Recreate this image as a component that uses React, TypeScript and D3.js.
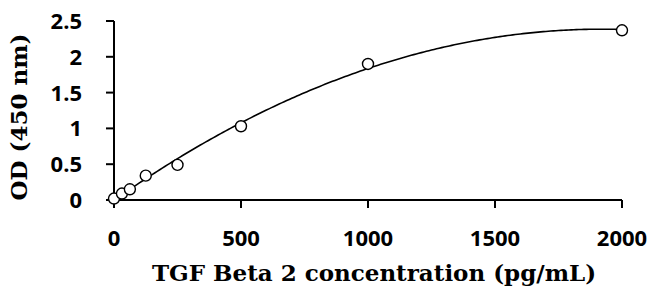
import { useMemo } from 'react'
import * as d3 from 'd3'

const WIDTH = 654
const HEIGHT = 299
const MARGIN = { top: 21, right: 32, bottom: 99, left: 114 }

// standards (pg/mL) and measured OD
const concentrations = [0, 31.25, 62.5, 125, 250, 500, 1000, 2000]
const odValues = [0.02, 0.09, 0.15, 0.34, 0.49, 1.03, 1.9, 2.37]

const xTicks = [0, 500, 1000, 1500, 2000]
const yTicks = [0, 0.5, 1, 1.5, 2, 2.5]
const yTickLabels = ['0', '0.5', '1', '1.5', '2', '2.5']

const xTitle = 'TGF Beta 2 concentration (pg/mL)'
const yTitle = 'OD (450 nm)'

// least squares polynomial fit (like an Excel trendline)
function polyFit(xs: number[], ys: number[], order: number) {
  const n = order + 1
  const A: number[][] = []
  for (let i = 0; i < n; i++) {
    A.push([])
    for (let j = 0; j <= n; j++) A[i].push(0)
  }
  // scale x to keep things well conditioned
  const s = 1000
  xs.forEach((xv, k) => {
    const x = xv / s
    for (let i = 0; i < n; i++) {
      for (let j = 0; j < n; j++) A[i][j] += Math.pow(x, i + j)
      A[i][n] += ys[k] * Math.pow(x, i)
    }
  })
  for (let c = 0; c < n; c++) {
    let p = c
    for (let r = c + 1; r < n; r++) if (Math.abs(A[r][c]) > Math.abs(A[p][c])) p = r
    ;[A[c], A[p]] = [A[p], A[c]]
    for (let r = 0; r < n; r++) {
      if (r === c) continue
      const f = A[r][c] / A[c][c]
      for (let j = c; j <= n; j++) A[r][j] -= f * A[c][j]
    }
  }
  const coef = A.map((row, i) => row[n] / row[i])
  return (xv: number) => coef.reduce((acc, c, i) => acc + c * Math.pow(xv / s, i), 0)
}

export default function App() {
  const innerW = WIDTH - MARGIN.left - MARGIN.right
  const innerH = HEIGHT - MARGIN.top - MARGIN.bottom

  const x = d3.scaleLinear().domain([0, 2000]).range([MARGIN.left, MARGIN.left + innerW])
  const y = d3.scaleLinear().domain([0, 2.5]).range([MARGIN.top + innerH, MARGIN.top])

  const fitPath = useMemo(() => {
    const f = polyFit(concentrations, odValues, 2)
    const pts = d3.range(0, 2001, 10).map(c => [c, f(c)] as [number, number])
    return d3.line<[number, number]>()
      .x(d => x(d[0]))
      .y(d => y(d[1]))(pts)
  }, [])

  const tickFont = "'Open Sans', sans-serif"
  const titleFont = "'DejaVu Serif', serif"

  return (
    <svg
      width={WIDTH}
      height={HEIGHT}
      style={{ position: 'absolute', left: 0, top: 0, background: '#fff' }}
    >
      {/* axes */}
      <line x1={x(0)} x2={x(2000)} y1={y(0)} y2={y(0)} stroke="#000" strokeWidth={2} />
      <line x1={x(0)} x2={x(0)} y1={y(0)} y2={y(2.5)} stroke="#000" strokeWidth={2} />

      {xTicks.map(t => (
        <g key={`x-${t}`}>
          <line x1={x(t)} x2={x(t)} y1={y(0)} y2={y(0) + 8} stroke="#000" strokeWidth={2} />
          <text
            x={x(t)}
            y={y(0) + 46}
            textAnchor="middle"
            fontFamily={tickFont}
            fontWeight="bold"
            fontSize={22}
            fill="#000"
          >
            {t}
          </text>
        </g>
      ))}

      {yTicks.map((t, i) => (
        <g key={`y-${t}`}>
          <line x1={x(0) - 8} x2={x(0)} y1={y(t)} y2={y(t)} stroke="#000" strokeWidth={2} />
          <text
            x={x(0) - 32}
            y={y(t)}
            dy="0.36em"
            textAnchor="end"
            fontFamily={tickFont}
            fontWeight="bold"
            fontSize={22}
            fill="#000"
          >
            {yTickLabels[i]}
          </text>
        </g>
      ))}

      {/* fitted curve */}
      <path d={fitPath ?? ''} fill="none" stroke="#000" strokeWidth={1.6} />

      {/* standards */}
      {concentrations.map((c, i) => (
        <circle
          key={`pt-${c}`}
          cx={x(c)}
          cy={y(odValues[i])}
          r={5.5}
          fill="#fff"
          stroke="#000"
          strokeWidth={1.4}
        />
      ))}

      {/* axis titles */}
      <text
        x={374}
        y={281}
        textAnchor="middle"
        fontFamily={titleFont}
        fontWeight="bold"
        fontSize={23}
        fill="#000"
      >
        {xTitle}
      </text>
      <text
        transform={`translate(27, ${117}) rotate(-90)`}
        textAnchor="middle"
        fontFamily={titleFont}
        fontWeight="bold"
        fontSize={23}
        fill="#000"
      >
        {yTitle}
      </text>
    </svg>
  )
}
